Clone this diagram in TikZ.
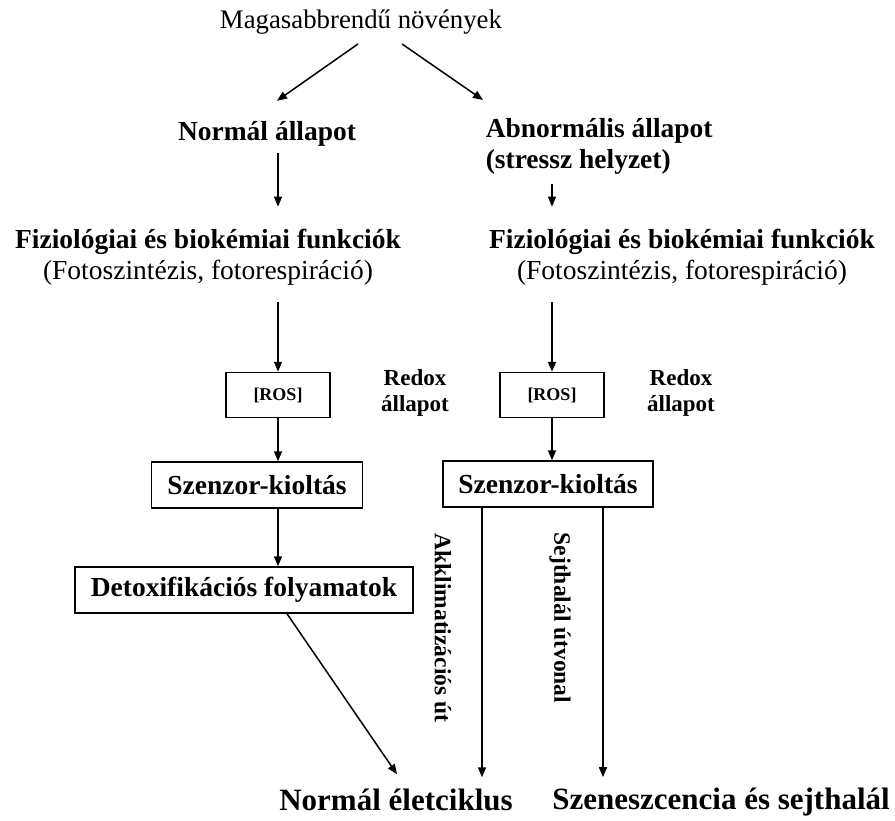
\documentclass[tikz,border=0pt]{standalone}
\usepackage{fontspec}
\setmainfont{Liberation Serif}
\usetikzlibrary{arrows.meta,calc}

\tikzset{
    lbl/.style={inner sep=0pt, align=center, font=\bfseries\fontsize{27.5}{31}\selectfont},
    box/.style={draw, line width=1.5pt, inner sep=0pt, minimum height=46pt,
        font=\bfseries\fontsize{27.5}{31}\selectfont},
    small/.style={font=\bfseries\fontsize{18}{20}\selectfont},
    side/.style={lbl, font=\bfseries\fontsize{23}{26}\selectfont},
    route/.style={lbl, rotate=-90, font=\bfseries\fontsize{23.5}{26}\selectfont},
    final/.style={lbl, font=\bfseries\fontsize{31}{34}\selectfont},
}

\begin{document}
\begin{tikzpicture}[x=1pt, y=-1pt, >={Triangle[length=10pt,width=8pt]}, line width=1.5pt]
    \useasboundingbox (0,0) rectangle (895,821);

    % Top of the tree and the two states
    \node[inner sep=0pt, font=\fontsize{26.8}{30}\selectfont] (title) at (361,22) {Magasabbrendű növények};
    \node[lbl] (norm) at (267,134) {Normál állapot};
    \node[lbl, align=left, anchor=north west] (abn) at (485,118) {Abnormális állapot\\(stressz helyzet)};

    % Functions under each state
    \node[lbl] (fiz1) at (208,257) {Fiziológiai és biokémiai funkciók\\\mdseries(Fotoszintézis, fotorespiráció)};
    \node[lbl] (fiz2) at (682,257) {Fiziológiai és biokémiai funkciók\\\mdseries(Fotoszintézis, fotorespiráció)};

    % ROS boxes with the redox labels
    \node[box, small, minimum width=104pt, minimum height=45pt] (ros1) at (278,395) {[ROS]};
    \node[box, small, minimum width=104pt, minimum height=45pt] (ros2) at (552,395) {[ROS]};
    \node[side] (redox1) at (415,393) {Redox\\állapot};
    \node[side] (redox2) at (681,393) {Redox\\állapot};

    % Sensor and detox boxes
    \node[box, minimum width=211pt] (sz1) at (257,485) {Szenzor-kioltás};
    \node[box, minimum width=210pt] (sz2) at (548,484) {Szenzor-kioltás};
    \node[box, minimum width=338pt] (det) at (244,590) {Detoxifikációs folyamatok};

    % Route labels and outcomes
    \node[route] (akk) at (443,628) {Akklimatizációs út};
    \node[route] (sejt) at (560,618) {Sejthalál útvonal};
    \node[final] (nel) at (396,800) {Normál életciklus};
    \node[final] (szen) at (721,802) {Szeneszcencia és sejthalál};

    % Draw the arrows from the title to the states
    \draw[->] ($(title.south)+(-3,9)$) -- ($(norm.north)+(10,-20)$);
    \draw[->] ($(title.south)+(41,9)$) -- ($(abn.north west)+(-2,-18)$);

    % Draw the arrows down to the functions
    \draw[->] ($(norm.south -| ros1)+(0,6)$) -- ($(fiz1.north -| ros1)+(0,-21.5)$);
    \draw[->] ($(abn.south -| ros2)+(0,8)$) -- ($(fiz2.north -| ros2)+(0,-21.5)$);

    % Draw the arrows into the ROS boxes
    \draw[->] ($(fiz1.south -| ros1)+(0,16.5)$) -- (ros1.north);
    \draw[->] ($(fiz2.south -| ros2)+(0,16.5)$) -- (ros2.north);

    % Draw the arrows into the sensor boxes
    \draw[->] (ros1.south) -- (ros1.south |- sz1.north);
    \draw[->] (ros2.south) -- (ros2.south |- sz2.north);

    % Left branch down to detox and on to the normal life cycle
    \draw[->] (sz1.south -| ros1) -- (det.north -| ros1);
    \draw[->] ($(det.south)+(43,0)$) -- ($(nel.north)+(1,-14)$);

    % Right branch splits into the two routes
    \draw[->] ($(sz2.south)+(-66,0)$) -- ($(nel.north)+(86,-11)$);
    \draw[->] ($(sz2.south)+(55,0)$) -- ($(szen.north)+(-118,-10)$);
\end{tikzpicture}
\end{document}
